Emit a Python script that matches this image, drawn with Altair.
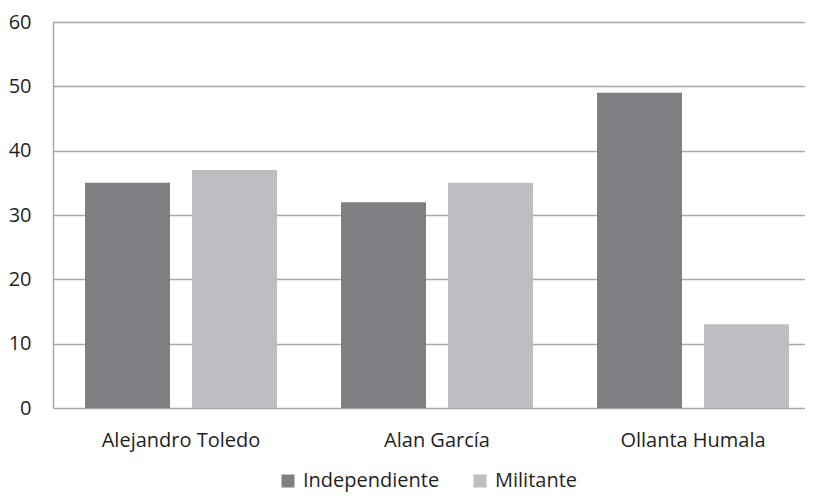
import altair as alt
import pandas as pd

candidates = ["Alejandro Toledo", "Alan García", "Ollanta Humala"]
series = ["Independiente", "Militante"]
independiente = [35, 32, 49]
militante = [37, 35, 13]
y_ticks = [0, 10, 20, 30, 40, 50, 60]

rows = []
for c, a, b in zip(candidates, independiente, militante):
    rows.append({"candidato": c, "tipo": series[0], "valor": a})
    rows.append({"candidato": c, "tipo": series[1], "valor": b})
df = pd.DataFrame(rows)

grid_color = "#a8a8a8"
text_color = "#1f1f1f"

chart = alt.Chart(df).mark_bar().encode(
    x=alt.X("candidato:N", sort=candidates,
            scale=alt.Scale(paddingInner=0.25, paddingOuter=0.09375, align=0.667),
            axis=alt.Axis(title=None, labelAngle=0, ticks=False, domain=False,
                          labelPadding=22, labelFontSize=20, labelColor=text_color)),
    xOffset=alt.XOffset("tipo:N", sort=series,
                        scale=alt.Scale(paddingInner=0.2056, paddingOuter=0)),
    y=alt.Y("valor:Q", scale=alt.Scale(domain=[0, 60], nice=False),
            axis=alt.Axis(title=None, values=y_ticks, ticks=False, domain=True,
                          domainColor=grid_color, domainWidth=1.5,
                          grid=True, gridColor=grid_color, gridWidth=1.5,
                          labelPadding=22, labelFontSize=20, labelColor=text_color)),
    color=alt.Color("tipo:N", sort=series,
                    scale=alt.Scale(domain=series, range=["#7e7f83", "#bdbec2"]),
                    legend=alt.Legend(title=None, orient="none", direction="horizontal",
                                      legendX=225, legendY=449,
                                      symbolType="square", symbolSize=169,
                                      symbolStrokeWidth=0, labelFontSize=20,
                                      labelOffset=5, columnPadding=30,
                                      labelColor=text_color)),
).properties(
    width=752,
    height=386,
    autosize=alt.AutoSizeParams(type="none"),
    padding={"left": 45, "top": 14, "right": 0, "bottom": 86},
).configure(
    font="Open Sans",
).configure_view(
    stroke=None,
)

chart.save("out.html", embed_options={"renderer": "svg", "actions": False})
